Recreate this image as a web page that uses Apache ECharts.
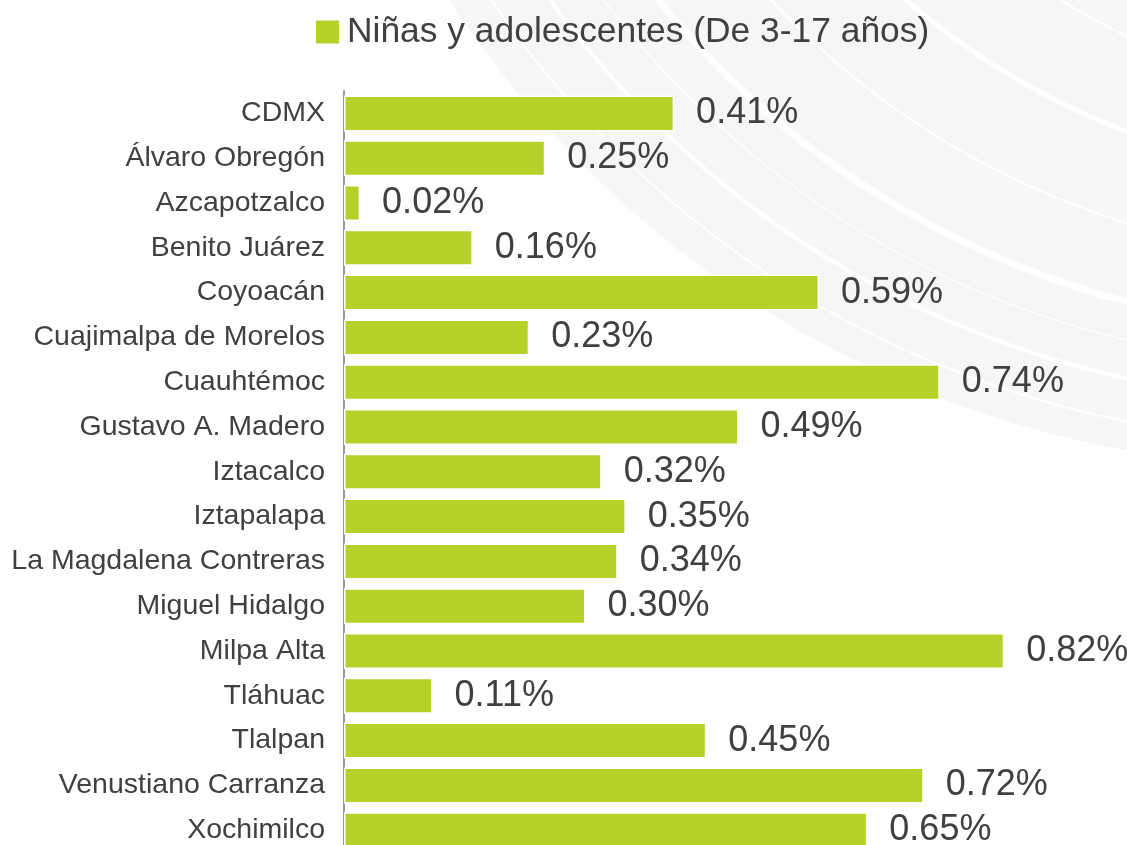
<!DOCTYPE html>
<html>
<head>
<meta charset="utf-8">
<script src="https://cdn.jsdelivr.net/npm/echarts@6/dist/echarts.min.js"></script>
<style>
html,body{margin:0;padding:0;background:#ffffff;}
#chart{width:1127px;height:845px;}
</style>
</head>
<body>
<div id="chart"></div>
<script>
const categories = ["CDMX","Álvaro Obregón","Azcapotzalco","Benito Juárez","Coyoacán","Cuajimalpa de Morelos","Cuauhtémoc","Gustavo A. Madero","Iztacalco","Iztapalapa","La Magdalena Contreras","Miguel Hidalgo","Milpa Alta","Tláhuac","Tlalpan","Venustiano Carranza","Xochimilco"];
const values = [0.41,0.25,0.02,0.16,0.59,0.23,0.74,0.49,0.32,0.35,0.34,0.30,0.82,0.11,0.45,0.72,0.65];
const seriesName = "Niñas y adolescentes (De 3-17 años)";

const chart = echarts.init(document.getElementById('chart'), null, {renderer:'canvas'});
const textColor = '#404040';
const green = '#b5d12a';

// decorative background swirl
const deco = [
  {type:'circle', shape:{cx:1311, cy:-561, r:1028}, style:{fill:'#f6f6f6'}, z:-10, silent:true},
  {type:'circle', shape:{cx:1320, cy:-560, r:1000}, style:{fill:null, stroke:'#ffffff', lineWidth:2}, z:-9, silent:true},
  {type:'circle', shape:{cx:1330, cy:-560, r:960}, style:{fill:null, stroke:'#ffffff', lineWidth:4}, z:-9, silent:true},
  {type:'circle', shape:{cx:1340, cy:-560, r:925}, style:{fill:null, stroke:'#ffffff', lineWidth:1.5}, z:-9, silent:true},
  {type:'circle', shape:{cx:1350, cy:-560, r:890}, style:{fill:null, stroke:'#ffffff', lineWidth:7}, z:-9, silent:true},
  {type:'circle', shape:{cx:1370, cy:-560, r:820}, style:{fill:null, stroke:'#ffffff', lineWidth:2}, z:-9, silent:true},
  {type:'circle', shape:{cx:1390, cy:-560, r:740}, style:{fill:null, stroke:'#ffffff', lineWidth:5}, z:-9, silent:true},
  {type:'circle', shape:{cx:1410, cy:-560, r:660}, style:{fill:null, stroke:'#ffffff', lineWidth:2}, z:-9, silent:true},
  {type:'circle', shape:{cx:1430, cy:-560, r:600}, style:{fill:null, stroke:'#ffffff', lineWidth:3}, z:-9, silent:true}
];

chart.setOption({
  backgroundColor:'#ffffff',
  animation:false,
  graphic:{elements:deco},
  legend:{
    show:true,
    left:309, top:9,
    itemWidth:25, itemHeight:25, itemGap:10,
    icon:'rect',
    textStyle:{fontFamily:'Liberation Sans, Arial, sans-serif', fontSize:35.4, color:textColor, lineHeight:36, padding:[0,0,0,2]},
    data:[seriesName]
  },
  grid:{left:344, width:781, top:91, height:761.6, containLabel:false, outerBoundsMode:'none'},
  xAxis:{
    type:'value', min:0, max:0.97, show:false,
    splitLine:{show:false}
  },
  yAxis:{
    type:'category', data:categories, inverse:true,
    axisLine:{show:true, lineStyle:{color:'#9a9a9a', width:2}},
    axisTick:{show:false},
    axisLabel:{fontFamily:'Liberation Sans, Arial, sans-serif', fontSize:28.5, color:textColor, margin:19}
  },
  series:[{
    name:seriesName,
    type:'bar',
    data:values,
    barWidth:36,
    itemStyle:{color:green, borderColor:'#ffffff', borderWidth:1.5},
    label:{
      show:true, position:'right', distance:22,
      fontFamily:'Liberation Sans, Arial, sans-serif', fontSize:36, color:textColor,
      formatter:function(p){return p.value.toFixed(2)+'%';}
    }
  }]
});
</script>
</body>
</html>
